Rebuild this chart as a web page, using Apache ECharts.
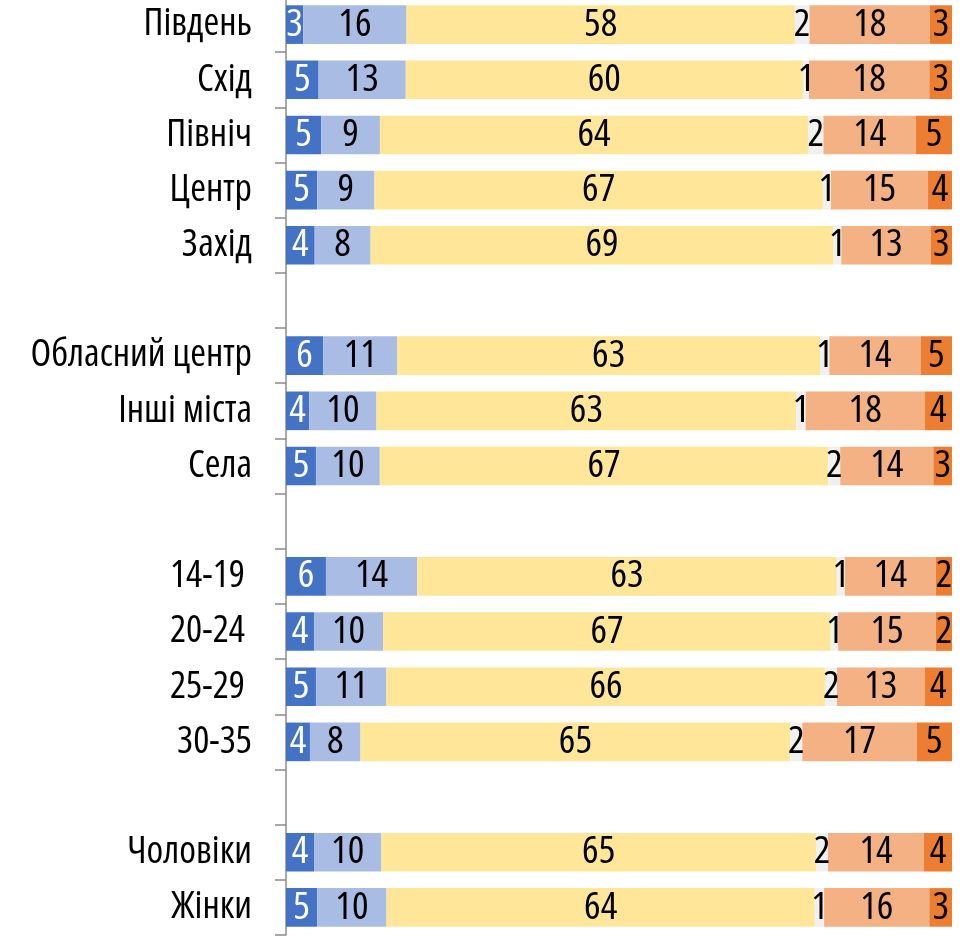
<!DOCTYPE html>
<html>
<head>
<meta charset="utf-8">
<script src="https://cdn.jsdelivr.net/npm/echarts@6/dist/echarts.min.js"></script>
<style>
  html, body { margin: 0; padding: 0; background: #fff; }
  #chart { width: 968px; height: 937px; }
</style>
</head>
<body>
<div id="chart"></div>
<script>
// категорії зверху вниз, '' — порожні рядки-роздільники
const categories = ['Південь', 'Схід', 'Північ', 'Центр', 'Захід', '',
  'Обласний центр', 'Інші міста', 'Села', '',
  '14-19 ', '20-24 ', '25-29 ', '30-35', '',
  'Чоловіки', 'Жінки']

// частки, %, підписи — округлені значення
const darkBlue = [2.6, 4.9, 5.3, 4.7, 4.3, null, 5.6, 3.5, 4.5, null, 6.0, 4.2, 4.5, 3.6, null, 4.2, 4.7]
const lightBlue = [15.5, 13.1, 8.8, 8.6, 8.4, null, 11.1, 10.1, 9.6, null, 13.7, 10.4, 10.6, 7.6, null, 10.1, 10.4]
const yellow = [58.3, 59.7, 64.3, 67.4, 69.4, null, 63.4, 63.1, 67.4, null, 63.0, 67.2, 66.0, 64.6, null, 65.2, 64.3]
const gray = [2.2, 0.9, 2.3, 1.2, 1.2, null, 1.4, 1.4, 1.8, null, 1.2, 1.1, 1.7, 1.8, null, 1.8, 1.4]
const lightOrange = [18.1, 18.1, 13.9, 14.6, 13.4, null, 13.7, 17.9, 14.0, null, 13.7, 14.7, 13.2, 17.2, null, 14.4, 15.8]
const darkOrange = [3.3, 3.4, 5.4, 3.6, 3.2, null, 4.7, 4.1, 2.8, null, 2.4, 2.4, 4.1, 5.3, null, 4.2, 3.4]

const seriesData = [darkBlue, lightBlue, yellow, gray, lightOrange, darkOrange]
const colors = ['#4472C4', '#A9BDE4', '#FFE699', '#F0F0F0', '#F4B183', '#ED7D31']

const font = "'Open Sans', 'Roboto Condensed', sans-serif"

// суми рядків, щоб кожна смуга займала рівно 100%
const rowSums = categories.map((c, i) =>
  seriesData.reduce((s, arr) => s + (arr[i] || 0), 0))

const chart = echarts.init(document.getElementById('chart'))
const option = {
  animation: false,
  grid: {
    left: 286,
    right: 16,
    top: -3,
    bottom: 2,
    containLabel: false,
    outerBoundsMode: 'none'
  },
  xAxis: {
    type: 'value',
    min: 0,
    max: 100,
    show: false
  },
  yAxis: {
    type: 'category',
    inverse: true,
    data: categories,
    axisLine: {
      show: true,
      lineStyle: { color: '#8c8c8c', width: 1.5 }
    },
    axisTick: {
      show: true,
      length: 11,
      lineStyle: { color: '#8c8c8c', width: 1.5 }
    },
    axisLabel: {
      margin: 34,
      color: '#000',
      fontStyle: 'condensed',
      fontFamily: font,
      fontSize: 38
    }
  },
  series: seriesData.map((arr, k) => ({
    type: 'bar',
    stack: 'total',
    barWidth: '70%',
    itemStyle: { color: colors[k] },
    data: arr.map((v, i) => v == null ? null : { value: v / rowSums[i] * 100, raw: v }),
    label: {
      show: true,
      position: 'inside',
      color: k === 0 ? '#fff' : '#000',
      fontStyle: 'condensed',
      fontFamily: font,
      fontSize: 39,
      formatter: p => p.data ? Math.round(p.data.raw) : ''
    }
  }))
}
chart.setOption(option)
</script>
</body>
</html>
